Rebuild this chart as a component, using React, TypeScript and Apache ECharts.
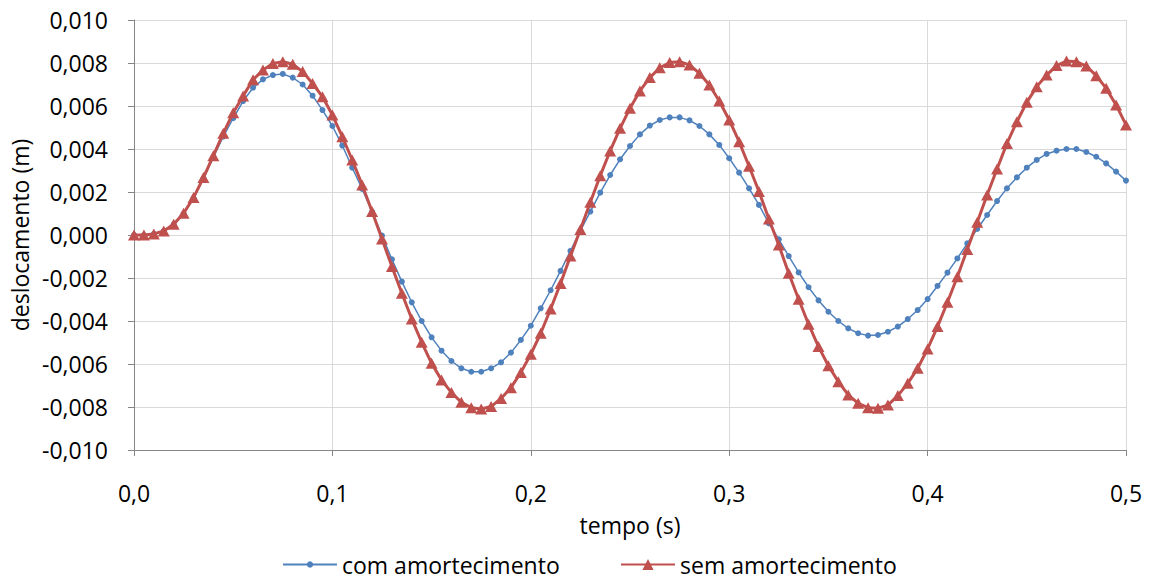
import React, { useEffect, useRef } from "react";
import * as echarts from "echarts";

// tempo (s)
const times = [
  0, 0.005, 0.01, 0.015, 0.02, 0.025, 0.03, 0.035, 0.04, 0.045,
  0.05, 0.055, 0.06, 0.065, 0.07, 0.075, 0.08, 0.085, 0.09, 0.095,
  0.1, 0.105, 0.11, 0.115, 0.12, 0.125, 0.13, 0.135, 0.14, 0.145,
  0.15, 0.155, 0.16, 0.165, 0.17, 0.175, 0.18, 0.185, 0.19, 0.195,
  0.2, 0.205, 0.21, 0.215, 0.22, 0.225, 0.23, 0.235, 0.24, 0.245,
  0.25, 0.255, 0.26, 0.265, 0.27, 0.275, 0.28, 0.285, 0.29, 0.295,
  0.3, 0.305, 0.31, 0.315, 0.32, 0.325, 0.33, 0.335, 0.34, 0.345,
  0.35, 0.355, 0.36, 0.365, 0.37, 0.375, 0.38, 0.385, 0.39, 0.395,
  0.4, 0.405, 0.41, 0.415, 0.42, 0.425, 0.43, 0.435, 0.44, 0.445,
  0.45, 0.455, 0.46, 0.465, 0.47, 0.475, 0.48, 0.485, 0.49, 0.495,
  0.5,
];

// deslocamento (m) — com amortecimento
const comAmortecimento = [
  0, 0, 0.00005, 0.00019, 0.00049, 0.00099, 0.0017, 0.00262, 0.00362, 0.00458,
  0.00543, 0.00623, 0.00685, 0.00724, 0.00744, 0.00749, 0.00732, 0.007, 0.00648, 0.00581,
  0.00507, 0.00416, 0.00313, 0.00214, 0.00108, -0.00003, -0.00113, -0.00217, -0.00313, -0.004,
  -0.00476, -0.00538, -0.00586, -0.0062, -0.00636, -0.00636, -0.0062, -0.00592, -0.00547, -0.00488,
  -0.00422, -0.00341, -0.00257, -0.00167, -0.00074, 0.0002, 0.00109, 0.00197, 0.00279, 0.00352,
  0.00414, 0.00468, 0.00509, 0.00535, 0.00547, 0.00547, 0.00533, 0.00507, 0.00468, 0.00419,
  0.00357, 0.0029, 0.00217, 0.0014, 0.00054, -0.0002, -0.00098, -0.00174, -0.00243, -0.00304,
  -0.00357, -0.004, -0.00434, -0.00457, -0.00468, -0.00465, -0.0045, -0.00426, -0.00391, -0.00349,
  -0.00298, -0.00237, -0.00175, -0.00109, -0.00039, 0.00028, 0.00093, 0.00158, 0.00217, 0.00268,
  0.00313, 0.00349, 0.00377, 0.00392, 0.004, 0.004, 0.00386, 0.00364, 0.00333, 0.00295,
  0.00253,
];

// deslocamento (m) — sem amortecimento
const semAmortecimento = [
  0, 0, 0.00005, 0.00019, 0.0005, 0.00101, 0.00174, 0.00267, 0.00369, 0.00473,
  0.00569, 0.00647, 0.00722, 0.00767, 0.00798, 0.00806, 0.00794, 0.0076, 0.00705, 0.00643,
  0.00558, 0.00457, 0.00349, 0.00233, 0.00109, -0.00019, -0.00147, -0.00271, -0.00391, -0.00499,
  -0.00597, -0.00674, -0.00733, -0.00778, -0.00803, -0.00809, -0.00798, -0.0076, -0.0071, -0.00639,
  -0.00555, -0.00457, -0.00344, -0.00225, -0.00098, 0.00026, 0.00152, 0.00276, 0.00391, 0.00496,
  0.0059, 0.0067, 0.00732, 0.00778, 0.00802, 0.00806, 0.00791, 0.00752, 0.00698, 0.00623,
  0.00535, 0.00434, 0.0032, 0.00202, 0.00074, -0.00047, -0.00178, -0.00299, -0.00415, -0.00519,
  -0.00608, -0.00682, -0.00744, -0.00783, -0.00803, -0.00806, -0.00791, -0.00747, -0.0069, -0.0062,
  -0.0053, -0.00426, -0.00313, -0.00194, -0.00067, 0.00059, 0.00186, 0.00307, 0.00426, 0.00527,
  0.00617, 0.0069, 0.00744, 0.00788, 0.00809, 0.00806, 0.00786, 0.00741, 0.00682, 0.00605,
  0.00512,
];

const seriesNames = ["com amortecimento", "sem amortecimento"];
const xAxisTitle = "tempo (s)";
const yAxisTitle = "deslocamento (m)";

const FONT = "'Open Sans', sans-serif";
const BLUE = "#4F81BD";
const RED = "#C0504D";

const fmt = (v: number, d: number) => {
  if (Math.abs(v) < 1e-12) v = 0;
  return v.toFixed(d).replace(".", ",");
};

export default function App() {
  const ref = useRef<HTMLDivElement>(null);
  useEffect(() => {
    if (!ref.current) return;
    const chart = echarts.init(ref.current, undefined, { renderer: "svg" });
    const text = { fontFamily: FONT, fontSize: 23, color: "#000" };
    chart.setOption({
      animation: false,
      backgroundColor: "#fff",
      grid: { left: 134, top: 20, right: 23, bottom: 130, containLabel: false },
      xAxis: {
        type: "value",
        min: 0,
        max: 0.5,
        interval: 0.1,
        name: xAxisTitle,
        nameLocation: "middle",
        nameGap: 63,
        nameTextStyle: { ...text },
        axisLine: { show: true, onZero: false, lineStyle: { color: "#868686", width: 1 } },
        axisTick: { show: true, inside: false, length: 6, lineStyle: { color: "#868686" } },
        axisLabel: { ...text, margin: 31, formatter: (v: number) => fmt(v, 1) },
        splitLine: { show: true, lineStyle: { color: "#D9D9D9", width: 1 } },
      },
      yAxis: {
        type: "value",
        min: -0.01,
        max: 0.01,
        interval: 0.002,
        name: yAxisTitle,
        nameLocation: "middle",
        nameGap: 102,
        nameTextStyle: { ...text },
        axisLine: { show: true, lineStyle: { color: "#868686", width: 1 } },
        axisTick: { show: true, inside: false, length: 6, lineStyle: { color: "#868686" } },
        axisLabel: { ...text, margin: 26, formatter: (v: number) => fmt(v, 3) },
        splitLine: { show: true, lineStyle: { color: "#D9D9D9", width: 1 } },
      },
      legend: [
        {
          data: [seriesNames[0]],
          left: 282,
          top: 553,
          padding: 0,
          itemWidth: 54,
          itemHeight: 8,
          textStyle: { ...text },
        },
        {
          data: [seriesNames[1]],
          left: 620,
          top: 553,
          padding: 0,
          itemWidth: 54,
          itemHeight: 14,
          textStyle: { ...text },
        },
      ],
      series: [
        {
          name: seriesNames[0],
          type: "line",
          data: times.map((t, i) => [t, comAmortecimento[i]]),
          symbol: "circle",
          symbolSize: 6,
          showSymbol: true,
          lineStyle: { color: BLUE, width: 1.5 },
          itemStyle: { color: BLUE },
          z: 2,
        },
        {
          name: seriesNames[1],
          type: "line",
          data: times.map((t, i) => [t, semAmortecimento[i]]),
          symbol: "triangle",
          symbolSize: [12, 11],
          showSymbol: true,
          lineStyle: { color: RED, width: 3 },
          itemStyle: { color: RED },
          z: 3,
        },
      ],
    });
    return () => chart.dispose();
  }, []);
  return (
    <div
      ref={ref}
      style={{ position: "absolute", left: 0, top: 0, width: 1149, height: 580 }}
    />
  );
}
